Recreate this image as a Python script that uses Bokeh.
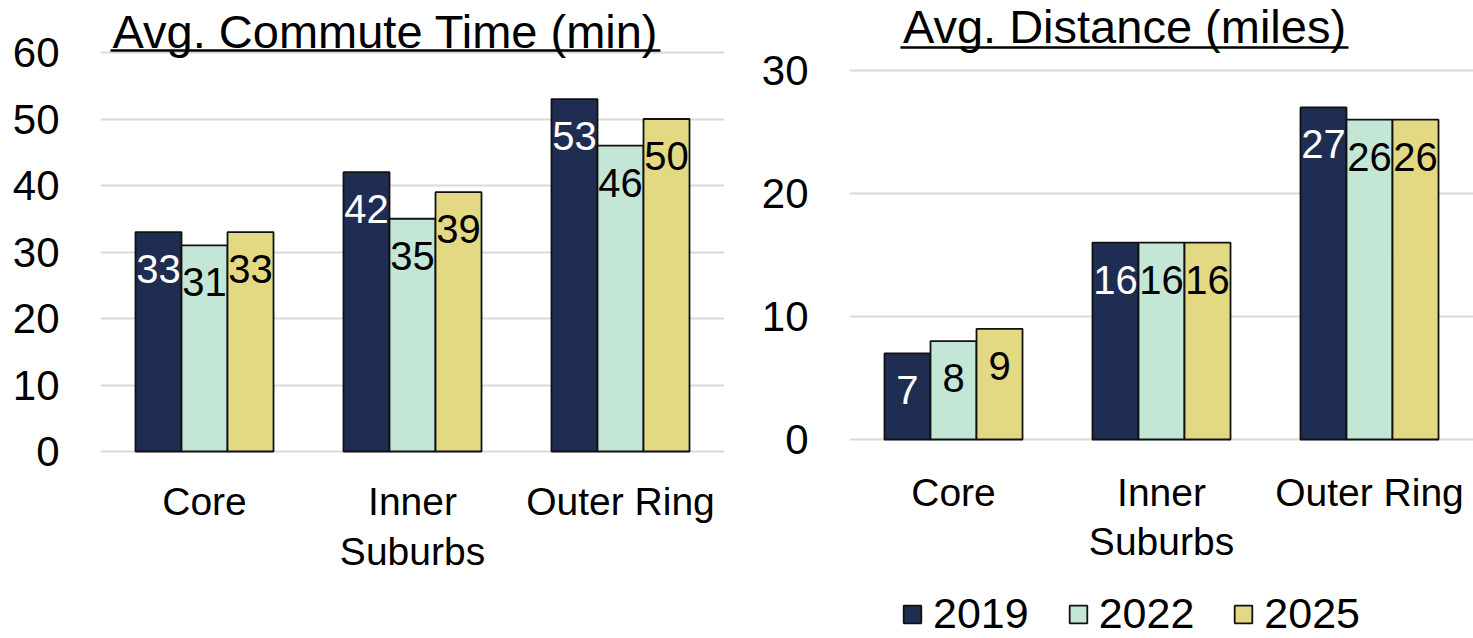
from bokeh.plotting import figure
from bokeh.models import ColumnDataSource, FixedTicker, Legend, LegendItem, Range1d
from bokeh.layouts import row
from bokeh.embed import file_html
from bokeh.resources import INLINE
from bokeh.core.properties import value

categories = ["Core", "Inner Suburbs", "Outer Ring"]
category_labels = ["Core", "Inner\nSuburbs", "Outer Ring"]
years = ["2019", "2022", "2025"]
time_2019 = [33, 42, 53]
time_2022 = [31, 35, 46]
time_2025 = [33, 39, 50]
dist_2019 = [7, 16, 27]
dist_2022 = [8, 16, 26]
dist_2025 = [9, 16, 26]
time_ticks = [0, 10, 20, 30, 40, 50, 60]
dist_ticks = [0, 10, 20, 30]
title_time = "Avg. Commute Time (min)"
title_dist = "Avg. Distance (miles)"

COLORS = ["#1F2D52", "#C4E6D6", "#E3D983"]
LABEL_COLORS = ["#FFFFFF", "#000000", "#000000"]
FONT = "Liberation Sans"
BAR_W = 0.2212


def make_chart(series, ticks, y_start, y_end, width, height, mbl, mbr,
               title, title_x, title_y, ul_x0, ul_x1, ul_y, cat_offset, cat_lh):
    p = figure(width=width, height=height, output_backend="svg", toolbar_location=None,
               x_range=Range1d(-0.5, 2.5), y_range=Range1d(y_start, y_end),
               min_border_left=mbl, min_border_right=mbr, min_border_top=0,
               min_border_bottom=0)
    p.outline_line_color = None
    p.xgrid.visible = False
    p.xaxis.visible = False
    p.ygrid.grid_line_color = "#D9D9D9"
    p.ygrid.grid_line_width = 2
    p.yaxis.ticker = FixedTicker(ticks=ticks)
    p.yaxis.axis_line_color = None
    p.yaxis.major_tick_line_color = None
    p.yaxis.minor_tick_line_color = None
    p.yaxis.major_label_text_font = FONT
    p.yaxis.major_label_text_font_size = "42px"
    p.yaxis.major_label_text_color = "#000000"
    p.yaxis.major_label_standoff = 35

    # category labels under each group, positioned on the x scale
    cat_src = ColumnDataSource(dict(x=list(range(len(categories))),
                                    y=[0] * len(categories), t=category_labels))
    p.text(x="x", y="y", text="t", source=cat_src, text_align="center",
           text_baseline="top", y_offset=cat_offset, text_font=value(FONT),
           text_font_size="39px", text_color="#000000", text_line_height=cat_lh)

    renderers = []
    for k, vals in enumerate(series):
        xs = [i + (k - 1) * BAR_W for i in range(len(categories))]
        src = ColumnDataSource(dict(x=xs, top=vals, lab=[str(v) for v in vals]))
        r = p.vbar(x="x", top="top", bottom=0, width=BAR_W, source=src,
                   fill_color=COLORS[k], line_color="#111111", line_width=1.8)
        renderers.append(r)
        p.text(x="x", y="top", text="lab", source=src, text_align="center",
               text_baseline="middle", y_offset=37, text_font=value(FONT),
               text_font_size="40px", text_color=LABEL_COLORS[k])

    p.text(x=[title_x], y=[title_y], text=[title], text_align="center",
           text_baseline="middle", text_font=value(FONT),
           text_font_size="47px", text_color="#000000")
    p.segment(x0=[ul_x0], y0=[ul_y], x1=[ul_x1], y1=[ul_y], line_color="#000000",
              line_width=2.5)
    return p, renderers


left, _ = make_chart([time_2019, time_2022, time_2025], time_ticks,
                     -28.12, 67.82, 740, 638, 100, 16,
                     title_time, 0.87, 63.16, -0.452, 2.192, 60.30, 28, 1.17)

right, rs = make_chart([dist_2019, dist_2022, dist_2025], dist_ticks,
                       -16.18, 35.69, 733, 638, 109, 0,
                       title_dist, 0.822, 33.58, -0.255, 1.899, 31.87, 32, 1.12)

legend = Legend(items=[LegendItem(label=y, renderers=[r]) for y, r in zip(years, rs)],
                orientation="horizontal", location=(52, 0),
                label_text_font=FONT, label_text_font_size="43px",
                label_text_color="#000000", glyph_width=22, glyph_height=22,
                spacing=38, padding=0, margin=0, label_standoff=10,
                border_line_color=None, background_fill_alpha=0)
right.add_layout(legend, "center")

layout = row(left, right, spacing=0)
open("out.html", "w").write(file_html(layout, INLINE))
